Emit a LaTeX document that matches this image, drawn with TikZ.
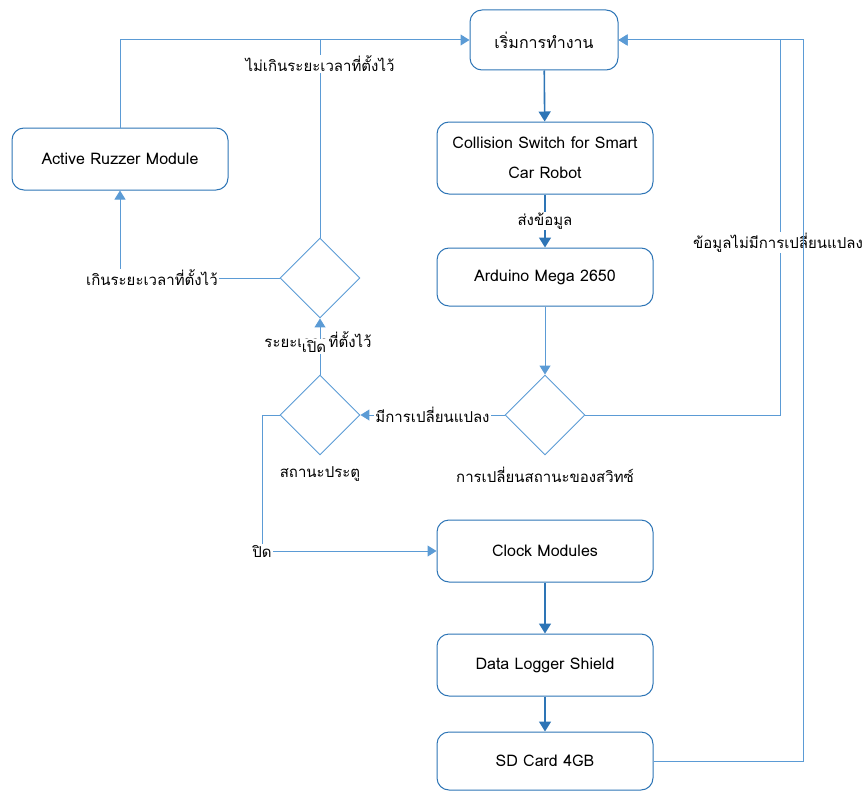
\documentclass[tikz,border=0pt]{standalone}
\usepackage{fontspec}
\setmainfont{Loma}[Script=Thai]
\usetikzlibrary{positioning,arrows.meta,shapes.geometric}
\definecolor{boxline}{HTML}{2E75B6}
\definecolor{flow}{HTML}{5B9BD5}
\definecolor{mainflow}{HTML}{2E75B6}

\begin{document}
\begin{tikzpicture}[x=1pt,y=-1pt,
  procbox/.style={draw=boxline,rounded corners=12pt,fill=white,minimum width=216pt,
    minimum height=62pt,align=center,line width=1pt,font=\fontsize{16}{30}\selectfont},
  decision/.style={draw=flow,diamond,minimum width=80pt,minimum height=80pt,inner sep=0pt,line width=0.9pt},
  link/.style={draw=flow,line width=1pt},
  linkarrow/.style={link,-{Triangle[width=11pt,length=9pt]}},
  mainarrow/.style={draw=mainflow,line width=1.6pt,-{Triangle[width=12pt,length=10pt]}},
  tag/.style={fill=white,inner sep=1pt,font=\fontsize{15}{17}\selectfont}]
  \useasboundingbox (0,0) rectangle (865,792);
  % boxes
  \node[procbox,minimum width=148pt,minimum height=60pt] (start) at (544,40) {เริ่มการทำงาน};
  \node[procbox,minimum height=72pt] (collide) at (545,158) {Collision Switch for Smart\\Car Robot};
  \node[procbox,minimum height=58pt] (arduino) at (545,277) {Arduino Mega 2650};
  \node[procbox] (buzzer) at (120,159) {Active Ruzzer Module};
  \node[procbox] (clock) at (545,551) {Clock Modules};
  \node[procbox] (logger) at (545,665) {Data Logger Shield};
  \node[procbox,minimum height=58pt] (sdcard) at (545,761) {SD Card 4GB};
  % decisions
  \node[decision] (swchange) at (545,415) {};
  \node[decision] (door) at (320,415) {};
  \node[decision] (timer) at (320,278) {};
  \node[tag,below=10pt of swchange] (swtag) {การเปลี่ยนสถานะของสวิทซ์};
  \node[tag,below=10pt of door] (doortag) {สถานะประตู};
  \node[tag,fill=none] (timetag) at (318,340) {ระยะเวลาที่ตั้งไว้};
  % rails
  \coordinate (leftrail) at (320,40);
  \coordinate (rightrail) at (780,40);
  \coordinate (outerrail) at (803,40);
  \coordinate (doorrail) at (262,415);
  % main flow
  \draw[mainarrow] (start) -- (collide);
  \draw[mainarrow] (collide) -- node[tag] (sendtag) {ส่งข้อมูล} (arduino);
  \draw[linkarrow] (arduino) -- (swchange);
  \draw[mainarrow] (clock) -- (logger);
  \draw[mainarrow] (logger) -- (sdcard);
  % switch decision
  \draw[linkarrow] (swchange.west) -- node[tag] (changetag) {มีการเปลี่ยนแปลง} (door.east);
  \draw[linkarrow] (swchange.east) -| node[tag,pos=0.73,xshift=-2pt] (samedata) {ข้อมูลไม่มีการเปลี่ยนแปลง} (rightrail) -- (start.east);
  \draw[linkarrow] (sdcard.east) -| (outerrail) -- (start.east);
  % door decision
  \draw[linkarrow] (door.north) -- node[tag,xshift=-6pt] (opentag) {เปิด} (timer.south);
  \draw[linkarrow] (door.west) -- (doorrail) |- node[tag] (closetag) {ปิด} (clock.west);
  % timer decision
  \draw[link] (timer.north) -- node[tag,pos=0.88] (intime) {ไม่เกินระยะเวลาที่ตั้งไว้} (leftrail);
  \draw[linkarrow] (timer.west) -| node[tag,pos=0.4] (overtime) {เกินระยะเวลาที่ตั้งไว้} (buzzer.south);
  \draw[linkarrow] (buzzer.north) |- (start.west);
\end{tikzpicture}
\end{document}
